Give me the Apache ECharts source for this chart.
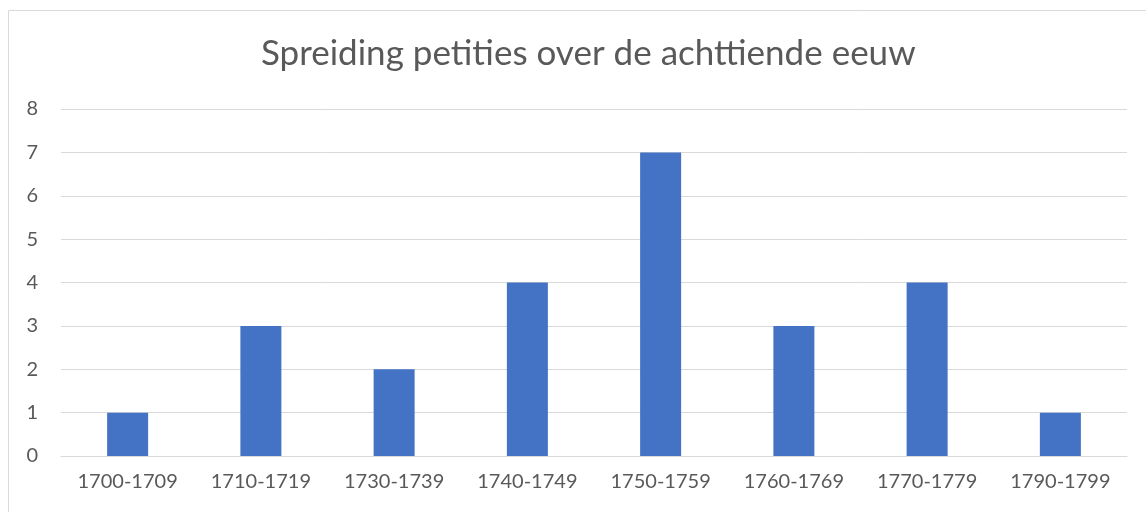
<!DOCTYPE html>
<html>
<head>
<meta charset="utf-8">
<script src="https://cdn.jsdelivr.net/npm/echarts@6/dist/echarts.min.js"></script>
<style>
  html, body { margin: 0; padding: 0; background: #fff; }
  #container { width: 1146px; height: 512px; }
</style>
</head>
<body>
<div id="container"></div>
<script>
const categories = ['1700-1709', '1710-1719', '1730-1739', '1740-1749', '1750-1759', '1760-1769', '1770-1779', '1790-1799'];
const petities = [1, 3, 2, 4, 7, 3, 4, 1];
const yTicks = [0, 1, 2, 3, 4, 5, 6, 7, 8];

var dom = document.getElementById('container');
var myChart = echarts.init(dom, null, { renderer: 'canvas' });
var textColor = '#595959';
var fontName = 'Lato, "Open Sans", sans-serif';

var option = {
    animation: false,
    title: {
        text: 'Spreiding petities over de achttiende eeuw',
        left: 256,
        top: 31,
        textStyle: {
            color: textColor,
            fontSize: 35,
            fontWeight: 'normal',
            fontFamily: fontName
        }
    },
    graphic: [{
        type: 'rect',
        shape: { x: 8.5, y: 10.5, width: 1200, height: 600 },
        style: { fill: 'none', stroke: '#d9d9d9', lineWidth: 1 },
        silent: true
    }],
    grid: {
        left: 61,
        right: 19,
        top: 109,
        bottom: 56
    },
    xAxis: {
        type: 'category',
        data: categories,
        axisLine: { show: true, lineStyle: { color: '#d9d9d9', width: 1 } },
        axisTick: { show: false },
        axisLabel: {
            color: textColor,
            fontSize: 20,
            fontFamily: fontName,
            margin: 16
        }
    },
    yAxis: {
        type: 'value',
        min: yTicks[0],
        max: yTicks[yTicks.length - 1],
        interval: 1,
        axisLine: { show: false },
        axisTick: { show: false },
        splitLine: { lineStyle: { color: '#d9d9d9', width: 1 } },
        axisLabel: {
            color: textColor,
            fontSize: 20,
            fontFamily: fontName,
            margin: 23
        }
    },
    series: [{
        type: 'bar',
        data: petities,
        barWidth: 41,
        itemStyle: { color: '#4472c4' }
    }]
};

myChart.setOption(option);
window.addEventListener('resize', myChart.resize);
</script>
</body>
</html>
